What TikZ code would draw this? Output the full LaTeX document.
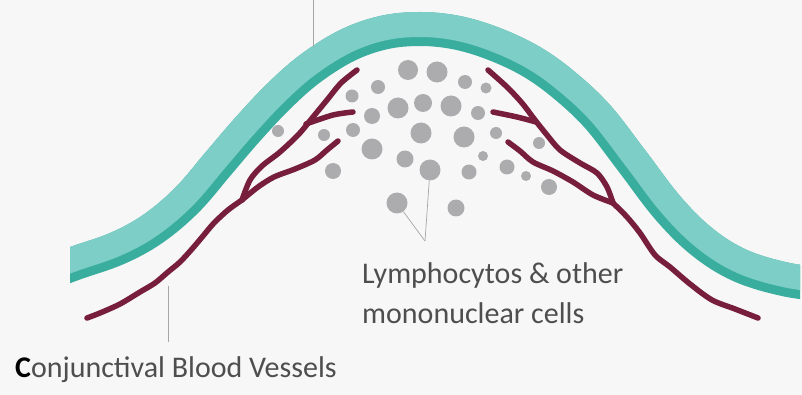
\documentclass[tikz,border=0pt]{standalone}
\usepackage{fontspec}
\setmainfont{Carlito}
\usetikzlibrary{positioning}
\definecolor{paper}{RGB}{247,247,247}
\definecolor{bandlight}{RGB}{126,206,200}
\definecolor{banddark}{RGB}{58,174,158}
\definecolor{vessel}{RGB}{118,30,60}
\definecolor{cellgray}{RGB}{172,172,174}
\definecolor{txtgray}{RGB}{78,78,78}
\tikzset{vein/.style={vessel, line width=5.5pt, line cap=round, line join=round},
  cell/.style={circle, fill=cellgray, inner sep=0pt, minimum size=#1},
  lead/.style={gray!70, line width=0.7pt},
  lbl/.style={text=txtgray, font=\fontsize{30}{40}\selectfont, align=left, inner sep=0pt}}
% upper edge of the conjunctiva
\def\bandedge{plot[smooth, tension=0.6] coordinates {(30,262) (70,247) (110,233) (143,215)
  (175,188) (205,153) (235,118) (267,84) (300,55) (340,30) (380,16) (420,12) (460,16)
  (500,28) (540,47) (575,72) (610,105) (645,150) (680,196) (712,228) (747,250) (790,263) (830,268)}}

\begin{document}
\begin{tikzpicture}[x=1pt, y=-1pt]
  \fill[paper] (0,0) rectangle (802,395);
  \useasboundingbox (0,0) rectangle (802,395);
  % conjunctiva band, dark stripe underneath
  \begin{scope}
    \clip (70,0) rectangle (800,395);
    \clip \bandedge -- (830,395) -- (30,395) -- cycle;
    \draw[banddark, line width=68pt] \bandedge;
    \draw[bandlight, line width=50pt] \bandedge;
  \end{scope}
  % blood vessels, left
  \draw[vein] plot[smooth] coordinates {(357,70) (341,83) (327,100) (313,117) (299,134) (280,152) (262,166) (250,180) (242,200)};
  \draw[vein] plot[smooth] coordinates {(353,112) (333,115) (306,124)};
  \draw[vein] plot[smooth] coordinates {(338,141) (327,150) (315,160) (295,169) (274,177) (258,187) (242,200)};
  \draw[vein] plot[smooth] coordinates {(242,200) (228,210) (214,223) (203,236) (192,249) (180,262) (168,272) (155,283) (140,292) (120,304) (100,313) (87,318)};
  % blood vessels, right
  \draw[vein] plot[smooth] coordinates {(488,70) (507,87) (522,103) (535,120) (547,135) (560,150) (580,163) (597,173) (607,187) (613,203)};
  \draw[vein] plot[smooth] coordinates {(493,112) (517,117) (536,122)};
  \draw[vein] plot[smooth] coordinates {(508,142) (520,151) (533,162) (553,171) (573,182) (593,195) (613,203)};
  \draw[vein] plot[smooth] coordinates {(613,203) (627,217) (640,233) (655,255) (670,267) (690,284) (712,300) (735,309) (758,318)};
  % infiltrating cells
  \foreach \i/\x/\y/\d in {1/408/70/20, 2/437/72/21, 3/465/82/14, 4/486/88/11, 5/378/87/14,
      6/352/96/13, 7/398/108/21, 8/423/103/18, 9/451/106/21, 10/478/113/14, 11/372/116/16,
      12/353/130/14, 13/421/133/21, 14/464/137/21, 15/496/133/12, 16/324/135/12, 17/278/131/12,
      18/372/149/21, 19/405/159/17, 20/430/170/21, 21/469/172/15, 22/483/156/10, 23/507/167/15,
      24/539/143/12, 25/526/176/10, 26/549/187/16, 27/333/171/16, 28/397/203/21, 29/456/208/17}
    \node[cell=\d pt] (c\i) at (\x,\y) {};
  % labels
  \node[lbl, anchor=base west] (lymph) at (362,323) {Lymphocytos \& other\\mononuclear cells};
  \node[lbl, anchor=base west] (cbv) at (15,377) {{\bfseries\color{black}C}onjunctival Blood Vessels};
  % leader lines
  \coordinate (lymphtip) at (425,241);
  \coordinate (cbvtop) at (168,286);
  \coordinate (cbvbot) at (168,342);
  \coordinate (bandtop) at (313,0);
  \coordinate (bandtip) at (313,47);
  \draw[lead] (c20) -- (lymphtip);
  \draw[lead] (c28) -- (lymphtip);
  \draw[lead] (cbvtop) -- (cbvbot);
  \draw[lead] (bandtop) -- (bandtip);
\end{tikzpicture}
\end{document}
